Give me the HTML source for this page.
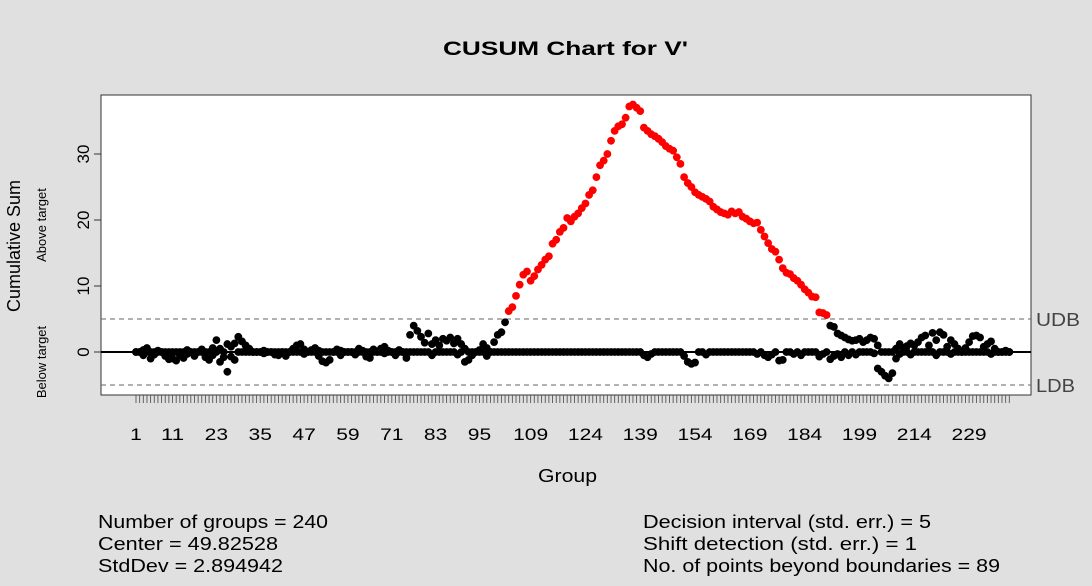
<!DOCTYPE html>
<html><head><meta charset="utf-8"><style>
body{margin:0;background:#e0e0e0;}
svg{display:block;font-family:"Liberation Sans",Arial,sans-serif;}
</style></head><body>
<svg id="chart" width="1092" height="586" viewBox="0 0 1092 586" xmlns="http://www.w3.org/2000/svg">
<rect x="0" y="0" width="1092" height="586" fill="#e0e0e0"/>
<text x="443" y="55" font-size="19" font-weight="bold" fill="#000" textLength="245" lengthAdjust="spacingAndGlyphs">CUSUM Chart for V'</text>
<rect x="101" y="95" width="930" height="300" fill="#fff" stroke="#333" stroke-width="1"/>
<g id="grid"></g>
<g id="ticks"></g>
<g id="marks"></g>
<text transform="translate(20,246) rotate(-90)" text-anchor="middle" font-size="18">Cumulative Sum</text>
<text transform="translate(46,225) rotate(-90)" text-anchor="middle" font-size="13">Above target</text>
<text transform="translate(46,362) rotate(-90)" text-anchor="middle" font-size="13">Below target</text>
<text x="538" y="482" font-size="18" textLength="59" lengthAdjust="spacingAndGlyphs">Group</text>
<text x="1036" y="326" font-size="18" fill="#444" textLength="44" lengthAdjust="spacingAndGlyphs">UDB</text>
<text x="1036" y="392" font-size="18" fill="#444" textLength="39" lengthAdjust="spacingAndGlyphs">LDB</text>
<g font-size="18">
<text x="98" y="528" textLength="230" lengthAdjust="spacingAndGlyphs">Number of groups = 240</text>
<text x="98" y="550" textLength="180" lengthAdjust="spacingAndGlyphs">Center = 49.82528</text>
<text x="98" y="572" textLength="185" lengthAdjust="spacingAndGlyphs">StdDev = 2.894942</text>
</g>
<g font-size="18">
<text x="643" y="528" textLength="288" lengthAdjust="spacingAndGlyphs">Decision interval (std. err.) = 5</text>
<text x="643" y="550" textLength="274" lengthAdjust="spacingAndGlyphs">Shift detection (std. err.) = 1</text>
<text x="643" y="572" textLength="357" lengthAdjust="spacingAndGlyphs">No. of points beyond boundaries = 89</text>
</g>
</svg>
<script>
const yTicks=[0,10,20,30];
const xTickLabels=[1,11,23,35,47,59,71,83,95,109,124,139,154,169,184,199,214,229];
const decisionInterval=5;
const upper=[
0,0,0.3,0.6,0,0,0.2,0,0,0,
0,0,0,0,0.3,0,0,0,0.4,0,
0,0.6,1.8,0.5,0,1.2,0.8,1.3,2.3,1.6,
1.0,0.5,0,0,0,0.2,0,0,0,0,
0,0,0,0.5,1.0,1.2,0.4,0,0.3,0.6,
0.2,0,0,0,0,0.4,0.2,0,0,0,
0,0.5,0.2,0,0,0.4,0,0.5,0.8,0.2,
0,0,0.3,0,0,2.6,4.0,3.2,2.3,1.4,
2.8,1.2,1.8,1.0,2.0,1.7,2.2,1.3,2.0,1.2,
0.5,0,0,0,0.3,1.2,0.6,0,1.5,2.6,
3.0,4.5,6.2,6.8,8.5,10.2,11.7,12.2,10.8,11.5,
12.5,13.2,14.0,14.5,16.4,17.0,18.2,18.8,20.3,19.8,
20.5,21.0,21.8,22.5,23.8,24.5,26.5,28.3,29.0,30.0,
32.0,33.5,34.2,34.5,35.5,37.2,37.5,37.0,36.5,34.0,
33.5,33.0,32.7,32.3,31.8,31.2,30.8,30.5,29.5,28.5,
26.5,25.6,25.0,24.2,23.8,23.5,23.2,22.8,22.0,21.6,
21.2,21.0,20.8,21.3,21.0,21.2,20.5,20.2,19.8,19.5,
19.6,18.5,17.5,16.5,15.6,15.2,14.0,12.7,12.0,11.8,
11.2,10.8,10.2,9.5,9.0,8.4,8.3,6.0,5.9,5.6,
4.0,3.8,2.8,2.5,2.2,1.9,1.7,1.8,2.0,1.5,
1.8,2.2,2.0,1.0,0,0,0,0,0.5,1.2,
0.6,0.9,1.3,1.0,1.5,2.2,2.5,1.0,2.9,1.8,
3.0,2.6,0.8,1.8,1.2,0.5,0,0.6,1.5,2.4,
2.5,2.2,0.8,1.2,1.6,0.5,0,0,0.2,0];
const lower=[
0,0,-0.5,0,-1.0,-0.4,0,0,-0.6,-1.1,
-1.0,-1.3,-0.5,-0.9,-0.3,0,-0.6,0,0,-0.8,
-1.2,-0.5,0,-1.5,-0.8,-3.0,-0.7,-1.2,0,0,
0,0,0,0,0,-0.2,0,0,-0.4,-0.5,
0,-0.6,0,0,0,0,-0.3,0,0,0,
-0.6,-1.4,-1.6,-1.2,0,0,-0.5,0,0,0,
-0.4,0,0,-0.7,-0.9,0,0,0,-0.2,0,
0,-0.5,0,0,-0.9,0,0,0,0,0,
0,-0.5,0,0,0,0,0,0,-0.4,0,
-1.5,-1.2,-0.5,0,0,0,-0.6,0,0,0,
0,0,0,0,0,0,0,0,0,0,
0,0,0,0,0,0,0,0,0,0,
0,0,0,0,0,0,0,0,0,0,
0,0,0,0,0,0,0,0,0,-0.5,
-0.8,-0.3,0,0,0,0,0,0,0,0,
-0.6,-1.5,-1.8,-1.6,0,0,-0.4,0,0,0,
0,0,0,0,0,0,0,0,0,0,
-0.3,0,-0.5,-0.8,-0.4,0,-1.3,-1.2,0,0,
-0.3,0,-0.5,0,0,0,0,-0.7,-0.3,0,
-1.1,-0.6,-0.3,-0.8,0,-0.5,0,-0.4,0,0,
0,0,-0.2,-2.5,-3.0,-3.6,-4.0,-3.2,-1.0,-0.3,
0,0,-0.4,0,0,0,0,0,0,-0.5,
0,0,0,-0.3,0,0,0,0,0,0,
0,0,0,0,-0.3,0,0,0,0,0];

const NS='http://www.w3.org/2000/svg';
const X0=101,X1=1031,Y0=95,Y1=395;
function xs(g){return 136+(g-1)*3.654;}
function ys(v){return 352-v*6.6;}
function mk(tag,attrs,parent){const e=document.createElementNS(NS,tag);for(const k in attrs)e.setAttribute(k,attrs[k]);parent.appendChild(e);return e;}
const grid=document.getElementById('grid'),ticks=document.getElementById('ticks'),marks=document.getElementById('marks');

let l=mk('line',{x1:X0,x2:X1,y1:ys(decisionInterval),y2:ys(decisionInterval),stroke:'#666','stroke-dasharray':'5,4','stroke-width':1},grid);


l=mk('line',{x1:X0,x2:X1,y1:ys(-decisionInterval),y2:ys(-decisionInterval),stroke:'#666','stroke-dasharray':'5,4','stroke-width':1},grid);


l=mk('line',{x1:X0,x2:X1,y1:ys(0),y2:ys(0),stroke:'#000','stroke-width':2},grid);



yTicks.forEach(v=>{
  const t=mk('line',{x1:X0-7,x2:X0,y1:ys(v),y2:ys(v),stroke:'#333'},ticks);
  
  
  const tx=mk('text',{transform:`translate(${X0-12},${ys(v)}) rotate(-90)`,'text-anchor':'middle','font-size':17},ticks);
  tx.textContent=v;
  
  
});
for(let g=1;g<=upper.length;g++){
  const t=mk('line',{x1:xs(g),x2:xs(g),y1:Y1,y2:Y1+8,stroke:'#555','stroke-width':0.9},ticks);
  
  
}
xTickLabels.forEach(g=>{
  const s=String(g);
  const tx=mk('text',{x:xs(g),y:440,'text-anchor':'middle','font-size':17,textLength:s.length*11.7,lengthAdjust:'spacingAndGlyphs'},ticks);
  tx.textContent=s;
  
  
});
function pt(g,v){
  const out=Math.abs(v)>decisionInterval;
  const c=mk('circle',{cx:xs(g),cy:ys(v),r:3.9,fill:out?'#f00':'#000'},marks);
  
  
}
lower.forEach((v,i)=>pt(i+1,v));
upper.forEach((v,i)=>pt(i+1,v));
</script>
</body></html>
